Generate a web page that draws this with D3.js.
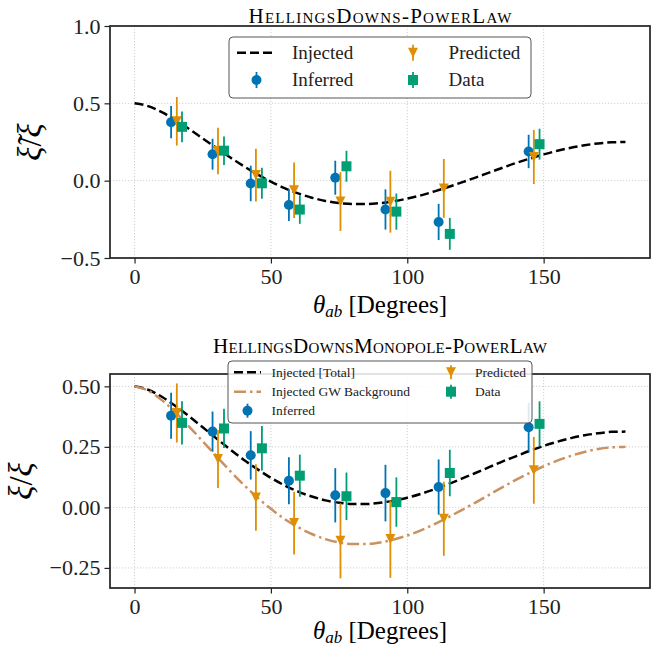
<!DOCTYPE html>
<html>
<head>
<meta charset="utf-8">
<script src="https://cdn.jsdelivr.net/npm/d3@7"></script>
<style>
  body { margin: 0; background: #fff; }
  svg { display: block; font-family: "Liberation Serif", "DejaVu Serif", serif; }
  .grid line { stroke: #c4c4c4; stroke-width: 0.8; stroke-dasharray: 1.2,1.8; }
  .tick text { fill: #222; }
</style>
</head>
<body>
<svg id="chart" width="657" height="648"></svg>
<script>
// angular separation of the binned points [degrees]
const thetaInferred = [13.4, 28.6, 42.6, 56.6, 73.6, 92.0, 111.5, 144.5];
const thetaPredicted = [15.5, 30.6, 44.5, 58.5, 75.5, 93.8, 113.4, 146.4];
const thetaData = [17.4, 32.8, 46.7, 60.6, 77.7, 96.0, 115.6, 148.5];

const thetaCurve = [0, 5, 10, 15, 20, 25, 30, 35, 40, 45, 50, 55, 60, 65, 70, 75, 80, 85, 90,
    95, 100, 105, 110, 115, 120, 125, 130, 135, 140, 145, 150, 155, 160, 165, 170, 175, 180];
const hdInjected = [0.500, 0.482, 0.443, 0.392, 0.334, 0.273, 0.212, 0.151, 0.094, 0.041, -0.006,
    -0.048, -0.082, -0.110, -0.131, -0.145, -0.151, -0.151, -0.145, -0.133, -0.116, -0.095, -0.069,
    -0.041, -0.011, 0.020, 0.052, 0.084, 0.115, 0.143, 0.170, 0.193, 0.213, 0.229, 0.241, 0.248, 0.250];
const hdmInjectedTotal = [0.500, 0.486, 0.457, 0.419, 0.376, 0.331, 0.285, 0.240, 0.197, 0.158, 0.122,
    0.091, 0.065, 0.045, 0.029, 0.019, 0.014, 0.014, 0.019, 0.028, 0.040, 0.056, 0.075,
    0.096, 0.119, 0.142, 0.166, 0.190, 0.212, 0.234, 0.254, 0.271, 0.286, 0.298, 0.306, 0.312, 0.313];

// HellingsDowns-PowerLaw
const hdInferred = [0.378, 0.171, -0.018, -0.157, 0.019, -0.186, -0.267, 0.189];
const hdInferredErr = [0.104, 0.100, 0.115, 0.103, 0.110, 0.130, 0.117, 0.108];
const hdPredicted = [0.384, 0.192, 0.036, -0.062, -0.135, -0.136, -0.050, 0.153];
const hdPredictedErr = [0.157, 0.150, 0.170, 0.180, 0.190, 0.200, 0.190, 0.175];
const hdData = [0.348, 0.194, -0.017, -0.187, 0.093, -0.200, -0.344, 0.236];
const hdDataErr = [0.100, 0.092, 0.100, 0.092, 0.100, 0.117, 0.103, 0.100];

// HellingsDownsMonopole-PowerLaw
const hdmInferred = [0.379, 0.313, 0.215, 0.110, 0.050, 0.059, 0.084, 0.331];
const hdmInferredErr = [0.095, 0.083, 0.100, 0.097, 0.112, 0.117, 0.114, 0.100];
const hdmPredicted = [0.390, 0.200, 0.041, -0.065, -0.138, -0.131, -0.047, 0.153];
const hdmPredictedErr = [0.122, 0.120, 0.137, 0.130, 0.155, 0.160, 0.153, 0.138];
const hdmData = [0.349, 0.326, 0.244, 0.131, 0.046, 0.022, 0.142, 0.345];
const hdmDataErr = [0.089, 0.081, 0.092, 0.087, 0.098, 0.102, 0.096, 0.093];

const xTicks = [0, 50, 100, 150];

const colors = { inferred: "#0173b2", predicted: "#de8f05", data: "#029e73", gw: "#ca9161" };

const svg = d3.select("#chart");
const left = 110, right = 650;

const x = d3.scaleLinear().domain([-9, 189]).range([left, right]);

const panels = [
    {
        title: "HellingsDowns-PowerLaw", titleY: 23, titleLen: 263,
        top: 26, bottom: 258, xLabelY: 313,
        yDomain: [-0.5, 1.0], yTicks: [-0.5, 0, 0.5, 1.0], yFormat: ".1f",
        tilde: true, yLabelX: 41,
        curves: [{ values: hdInjected, stroke: "#000", dash: "9,4", label: "Injected" }],
        inferred: hdInferred, inferredErr: hdInferredErr,
        predicted: hdPredicted, predictedErr: hdPredictedErr,
        data: hdData, dataErr: hdDataErr,
        legend: { x: 229, y: 37, w: 302, h: 61, rows: [52.7, 80], col1: 256.5, col2: 413,
                  text1: 292, text2: 448.6, lineHalf: 19.5, fontSize: 19, bar: 8 }
    },
    {
        title: "HellingsDownsMonopole-PowerLaw", titleY: 353, titleLen: 334,
        top: 374, bottom: 588, xLabelY: 639,
        yDomain: [-0.333, 0.551], yTicks: [-0.25, 0, 0.25, 0.5], yFormat: ".2f",
        tilde: false, yLabelX: 32,
        curves: [
            { values: hdmInjectedTotal, stroke: "#000", dash: "9,4", label: "Injected [Total]" },
            { values: hdInjected, stroke: colors.gw, dash: "12,4,2.5,4", label: "Injected GW Background" }
        ],
        inferred: hdmInferred, inferredErr: hdmInferredErr,
        predicted: hdmPredicted, predictedErr: hdmPredictedErr,
        data: hdmData, dataErr: hdmDataErr,
        legend: { x: 228, y: 361, w: 304, h: 62, rows: [372.3, 391.7, 410.7], col1: 247.5, col2: 451,
                  text1: 271.6, text2: 475, lineHalf: 13.5, fontSize: 13.5, bar: 7 }
    }
];

function markerPath(type) {
    if (type === "circle") {
        return d3.symbol(d3.symbolCircle, Math.PI * 25)();
    }
    if (type === "square") {
        return d3.symbol(d3.symbolSquare, 100)();
    }
    // triangle pointing down
    return "M-5,-5L5,-5L0,5Z";
}

function drawSeries(g, y, xs, vals, errs, color, type) {
    const s = g.append("g");
    s.selectAll("line").data(vals).join("line")
        .attr("x1", (d, i) => x(xs[i])).attr("x2", (d, i) => x(xs[i]))
        .attr("y1", (d, i) => y(d - errs[i])).attr("y2", (d, i) => y(d + errs[i]))
        .attr("stroke", color).attr("stroke-width", 1.8);
    s.selectAll("path").data(vals).join("path")
        .attr("d", markerPath(type))
        .attr("transform", (d, i) => `translate(${x(xs[i])},${y(d)})`)
        .attr("fill", color);
}

function drawPanel(p) {
    const y = d3.scaleLinear().domain(p.yDomain).range([p.bottom, p.top]);
    const g = svg.append("g");

    // grid
    const grid = g.append("g").attr("class", "grid");
    grid.selectAll(".gx").data(xTicks).join("line").attr("class", "gx")
        .attr("x1", d => x(d)).attr("x2", d => x(d)).attr("y1", p.top).attr("y2", p.bottom);
    grid.selectAll(".gy").data(p.yTicks).join("line").attr("class", "gy")
        .attr("x1", left).attr("x2", right).attr("y1", d => y(d)).attr("y2", d => y(d));

    // injected curves
    const line = d3.line().x((d, i) => x(thetaCurve[i])).y(d => y(d)).curve(d3.curveMonotoneX);
    p.curves.forEach(c => {
        g.append("path").datum(c.values)
            .attr("d", line).attr("fill", "none")
            .attr("stroke", c.stroke).attr("stroke-width", 2.5)
            .attr("stroke-dasharray", c.dash);
    });

    drawSeries(g, y, thetaInferred, p.inferred, p.inferredErr, colors.inferred, "circle");
    drawSeries(g, y, thetaPredicted, p.predicted, p.predictedErr, colors.predicted, "triangle");
    drawSeries(g, y, thetaData, p.data, p.dataErr, colors.data, "square");

    // axes
    const xAxis = g.append("g").attr("transform", `translate(0,${p.bottom})`)
        .call(d3.axisBottom(x).tickValues(xTicks).tickSize(5.5).tickPadding(5));
    const yAxis = g.append("g").attr("transform", `translate(${left},0)`)
        .call(d3.axisLeft(y).tickValues(p.yTicks).tickFormat(d3.format(p.yFormat)).tickSize(5.5).tickPadding(4));
    [xAxis, yAxis].forEach(a => {
        a.attr("font-family", null);
        a.select(".domain").remove();
        a.selectAll("line").attr("stroke", "#222").attr("stroke-width", 1.2);
        a.selectAll("text").attr("font-size", 22);
    });

    g.append("rect")
        .attr("x", left).attr("y", p.top)
        .attr("width", right - left).attr("height", p.bottom - p.top)
        .attr("fill", "none").attr("stroke", "#222").attr("stroke-width", 1.7);

    // title
    g.append("text")
        .attr("x", (left + right) / 2).attr("y", p.titleY)
        .attr("text-anchor", "middle")
        .attr("font-size", 21)
        .style("font-variant", "small-caps")
        .attr("textLength", p.titleLen)
        .text(p.title);

    // axis labels
    const xl = g.append("text")
        .attr("x", (left + right) / 2).attr("y", p.xLabelY)
        .attr("text-anchor", "middle").attr("font-size", 25);
    xl.append("tspan").attr("font-style", "italic").text("θ");
    xl.append("tspan").attr("font-style", "italic").attr("font-size", 17).attr("dy", 4).text("ab");
    xl.append("tspan").attr("dy", -4).text(" [Degrees]");

    const cy = (p.top + p.bottom) / 2;
    const yl = g.append("text")
        .attr("transform", `translate(${p.yLabelX},${cy}) rotate(-90)`)
        .attr("text-anchor", "middle").attr("font-size", 33);
    yl.append("tspan").attr("font-style", "italic").text(p.tilde ? "ξ\u0303" : "ξ");
    yl.append("tspan").text("/");
    yl.append("tspan").attr("font-style", "italic").text("ξ");

    drawLegend(p);
}

function drawLegend(p) {
    const L = p.legend;
    const g = svg.append("g");
    g.append("rect")
        .attr("x", L.x).attr("y", L.y).attr("width", L.w).attr("height", L.h)
        .attr("rx", 4).attr("fill", "#fff").attr("fill-opacity", 0.85)
        .attr("stroke", "#555").attr("stroke-width", 1);

    const entries = [];
    p.curves.forEach(c => entries.push({ kind: "line", c: c, label: c.label }));
    entries.push({ kind: "circle", color: colors.inferred, label: "Inferred" });
    entries.push({ kind: "triangle", color: colors.predicted, label: "Predicted" });
    entries.push({ kind: "square", color: colors.data, label: "Data" });

    const nRows = L.rows.length;
    entries.forEach((e, i) => {
        const col = Math.floor(i / nRows), row = i % nRows;
        const cx = col === 0 ? L.col1 : L.col2;
        const tx = col === 0 ? L.text1 : L.text2;
        const cy = L.rows[row];
        if (e.kind === "line") {
            g.append("line")
                .attr("x1", cx - L.lineHalf).attr("x2", cx + L.lineHalf)
                .attr("y1", cy).attr("y2", cy)
                .attr("stroke", e.c.stroke).attr("stroke-width", 2.5)
                .attr("stroke-dasharray", e.c.dash);
        } else {
            g.append("line")
                .attr("x1", cx).attr("x2", cx).attr("y1", cy - L.bar).attr("y2", cy + L.bar)
                .attr("stroke", e.color).attr("stroke-width", 1.8);
            g.append("path").attr("d", markerPath(e.kind))
                .attr("transform", `translate(${cx},${cy})`).attr("fill", e.color);
        }
        g.append("text")
            .attr("x", tx).attr("y", cy).attr("dy", "0.33em")
            .attr("font-size", L.fontSize).attr("fill", "#222")
            .text(e.label);
    });
}

panels.forEach(drawPanel);
</script>
</body>
</html>
